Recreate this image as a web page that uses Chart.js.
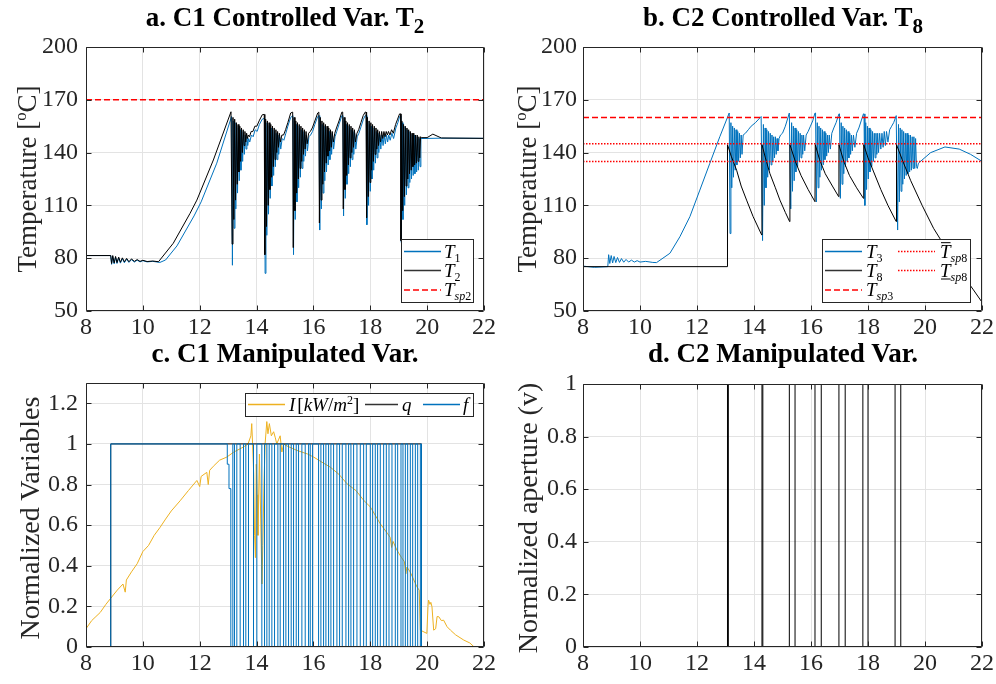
<!DOCTYPE html>
<html><head><meta charset="utf-8">
<script src="https://cdn.jsdelivr.net/npm/chart.js@4.4.1/dist/chart.umd.min.js"></script>
<style>
html,body{margin:0;padding:0;background:#fff;}
#wrap{position:relative;width:996px;height:684px;overflow:hidden;background:#fff;}
canvas{position:absolute;left:0;top:0;}
.ttl{position:absolute;font-family:'Liberation Serif','Times New Roman',serif;font-weight:bold;font-size:27px;line-height:27px;color:#000;white-space:nowrap;transform:translateX(-50%);}
.ttl sub{font-size:0.78em;vertical-align:-0.35em;line-height:0;}
.ylab{position:absolute;font-family:'Liberation Serif','Times New Roman',serif;font-size:27px;line-height:27px;color:#262626;white-space:nowrap;transform:translate(-50%,-50%) rotate(-90deg);}
.ylab.n{font-size:28px;line-height:28px;}
.ylab sup{font-size:0.62em;vertical-align:0.55em;line-height:0;}
</style></head>
<body>
<div id="wrap">
<canvas id="ca" width="996" height="684"></canvas>
<canvas id="cb" width="996" height="684"></canvas>
<canvas id="cc" width="996" height="684"></canvas>
<canvas id="cd" width="996" height="684"></canvas>
<div class="ttl" style="left:285px;top:4px">a. C1 Controlled Var. T<sub>2</sub></div>
<div class="ttl" style="left:783px;top:4px">b. C2 Controlled Var. T<sub>8</sub></div>
<div class="ttl" style="left:285px;top:340px">c. C1 Manipulated Var.</div>
<div class="ttl" style="left:783px;top:340px">d. C2 Manipulated Var.</div>
<div class="ylab" style="left:27px;top:179px">Temperature [<sup>o</sup>C]</div>
<div class="ylab" style="left:527px;top:179px">Temperature [<sup>o</sup>C]</div>
<div class="ylab n" style="left:30px;top:518px">Normalized Variables</div>
<div class="ylab n" style="left:528px;top:518px">Normalized aperture (v)</div>
</div>
<script>
// ---------------- DATA ----------------
const xTicks = [8,10,12,14,16,18,20,22];
const xTickLabels = ['8','10','12','14','16','18','20','22'];
const tempTicks = [50,80,110,140,170,200];
const tempTickLabels = ['50','80','110','140','170','200'];
const normTicks = [0,0.2,0.4,0.6,0.8,1,1.2];
const normTickLabels = ['0','0.2','0.4','0.6','0.8','1','1.2'];
const apertureTicks = [0,0.2,0.4,0.6,0.8,1];
const apertureTickLabels = ['0','0.2','0.4','0.6','0.8','1'];

const tsp2 = 170;
const tsp3 = 160;
const tsp8Upper = 145;
const tsp8Lower = 135;

// Panel a: T1 (blue)
const t1Time = [8,8.87,8.9,8.94,8.99,9.04,9.09,9.15,9.21,9.28,9.35,9.43,9.51,9.6,9.7,9.8,9.9,10,10.15,10.35,10.6,10.8,11.2,11.8,12.05,12.6,13.12,
13.15,13.18,13.21,13.24,13.27,13.3,13.33,13.36,13.39,13.42,13.45,13.48,13.51,13.54,13.57,13.6,13.63,13.66,13.69,13.72,13.76,13.82,13.88,13.95,14.02,14.1,14.2,
14.28,14.3,14.33,14.36,14.39,14.42,14.45,14.48,14.51,14.54,14.57,14.6,14.63,14.66,14.69,14.72,14.75,14.78,14.81,14.85,14.9,14.96,15.03,15.1,15.2,
15.28,15.3,15.33,15.36,15.39,15.42,15.45,15.48,15.51,15.54,15.57,15.6,15.63,15.66,15.69,15.72,15.75,15.79,15.84,15.9,15.97,16.05,16.15,
16.2,16.22,16.25,16.28,16.31,16.34,16.37,16.4,16.43,16.46,16.49,16.52,16.55,16.58,16.61,16.64,16.67,16.71,16.76,16.82,16.9,17.0,
17.04,17.06,17.09,17.12,17.15,17.18,17.21,17.24,17.27,17.3,17.33,17.36,17.39,17.42,17.45,17.49,17.54,17.6,17.68,17.76,17.82,
17.86,17.88,17.91,17.94,17.97,18.0,18.03,18.06,18.09,18.12,18.15,18.18,18.21,18.24,18.27,18.3,18.33,18.37,18.41,18.45,18.49,18.53,18.57,18.61,18.65,18.7,18.76,18.82,18.9,18.97,19.03,
19.08,19.09,19.12,19.15,19.18,19.21,19.24,19.27,19.3,19.33,19.36,19.39,19.42,19.45,19.48,19.51,19.54,19.57,19.6,19.63,19.66,19.69,19.72,19.75,19.78,19.82,20.5,22];
const t1Temp = [81.5,81.5,76.5,81,76.8,80.5,77,80.2,77.2,79.8,77.4,79.5,77.6,79.2,77.8,78.9,77.9,78.6,77.9,78.2,77.6,79,87,104,112,134,160.5,
76,158,97,157,108,155,117,154,124,153,130,152,135,151,139,150,142,149,144,148,146,150,149,153,152,156,159,
159.5,71.4,157,93,156,105,155,114,154,121,153,127,152,132,151,136,150,139,149,142,148,147,151,155,160,
161,82,158,102,156,112,155,120,154,126,153,131,152,135,151,138,150,141,149,150,152,156,160.5,
161,96,158,108,156,117,155,124,154,129,153,133,152,136,151,139,150,142,149,152,156,161,
161,104,158,114,156,122,155,128,154,132,153,136,152,139,151,142,149,151,155,159,161,
161,99,158,110,156,118,155,125,154,130,153,134,152,137,151,140,150,142,150,144,150,145,150,146,150,147,151,148,154,157,160.5,
161,89,157,102,155,110,154,116,153,120,152,123,151,125,150,127,150,128,149,129,149,130,148,132,148,148,148.2,148.1];

// Panel a: T2 (black)
const t2Time = [8,8.87,8.9,8.94,8.99,9.04,9.09,9.15,9.21,9.28,9.35,9.43,9.51,9.6,9.7,9.8,9.9,10,10.15,10.35,10.55,11.07,11.66,11.9,12.48,13.1,
13.14,13.17,13.2,13.23,13.26,13.29,13.32,13.35,13.38,13.41,13.44,13.47,13.5,13.53,13.56,13.59,13.62,13.65,13.68,13.71,13.75,13.81,13.87,13.94,14.01,14.09,14.2,
14.27,14.29,14.32,14.35,14.38,14.41,14.44,14.47,14.5,14.53,14.56,14.59,14.62,14.65,14.68,14.71,14.74,14.77,14.8,14.84,14.89,14.95,15.02,15.1,15.2,
15.27,15.29,15.32,15.35,15.38,15.41,15.44,15.47,15.5,15.53,15.56,15.59,15.62,15.65,15.68,15.71,15.74,15.78,15.83,15.89,15.96,16.05,16.15,
16.19,16.21,16.24,16.27,16.3,16.33,16.36,16.39,16.42,16.45,16.48,16.51,16.54,16.57,16.6,16.63,16.66,16.7,16.75,16.81,16.9,17.0,
17.03,17.05,17.08,17.11,17.14,17.17,17.2,17.23,17.26,17.29,17.32,17.35,17.38,17.41,17.44,17.48,17.53,17.59,17.67,17.75,17.82,
17.85,17.87,17.9,17.93,17.96,17.99,18.02,18.05,18.08,18.11,18.14,18.17,18.2,18.23,18.26,18.29,18.32,18.36,18.4,18.44,18.48,18.52,18.56,18.6,18.64,18.69,18.75,18.81,18.89,18.96,19.03,
19.07,19.08,19.11,19.14,19.17,19.2,19.23,19.26,19.29,19.32,19.35,19.38,19.41,19.44,19.47,19.5,19.53,19.56,19.59,19.62,19.65,19.68,19.71,19.74,19.77,19.81,20,20.2,20.5,22];
const t2Temp = [81.5,81.5,77,81.5,77.3,81,77.5,80.6,77.7,80.2,77.9,79.9,78,79.6,78.2,79.2,78.2,78.8,78.1,78.4,78,88.5,105.5,113,135.8,163.2,
88,160,102,159,113,157,122,156,129,155,135,154,140,153,144,152,146,151,148,150,149,152,152,155,155,158,161.5,
161.7,82,159,98,158,110,157,119,156,126,155,132,154,136,153,140,152,143,151,146,150,150,153,157,162.5,
163,86,160,107,158,117,157,125,156,131,155,135,154,139,153,142,152,145,151,152,154,158,162.5,
163,100,160,113,158,122,157,129,156,134,155,138,154,141,153,143,152,146,151,154,158,163,
163,108,160,119,158,127,157,133,156,137,155,140,154,143,153,146,151,153,157,161,163,
163,103,160,115,158,123,157,130,156,135,155,139,154,142,153,144,152,146,152,148,152,149,152,150,152,150,153,151,156,159,162,
162,90,158,107,156,115,155,121,154,125,153,128,152,130,151,132,151,133,150,134,150,135,149,137,149,148.5,148.5,150.5,148.3,148.1];

// Panel b: T3 (blue)
const t3Time = [8,8.4,8.87,8.9,8.94,8.99,9.04,9.09,9.15,9.21,9.28,9.35,9.43,9.51,9.6,9.7,9.8,9.9,10,10.2,10.45,10.58,11.05,11.4,11.75,12.1,12.45,12.8,13.13,
13.16,13.19,13.22,13.25,13.28,13.31,13.34,13.37,13.4,13.43,13.46,13.49,13.52,13.55,13.58,13.62,13.7,13.8,13.9,14.05,14.25,
14.27,14.3,14.33,14.36,14.39,14.42,14.45,14.48,14.51,14.54,14.57,14.6,14.63,14.66,14.69,14.72,14.75,14.78,14.81,14.84,14.88,14.93,15.0,15.1,15.24,
15.26,15.29,15.32,15.35,15.38,15.41,15.44,15.47,15.5,15.53,15.56,15.59,15.62,15.65,15.68,15.71,15.74,15.78,15.83,15.9,15.98,16.06,16.14,
16.16,16.19,16.22,16.25,16.28,16.31,16.34,16.37,16.4,16.43,16.46,16.49,16.52,16.55,16.58,16.61,16.64,16.68,16.73,16.8,16.88,16.98,
17.0,17.03,17.06,17.09,17.12,17.15,17.18,17.21,17.24,17.27,17.3,17.33,17.36,17.39,17.42,17.45,17.49,17.54,17.6,17.68,17.76,17.84,
17.86,17.89,17.92,17.95,17.98,18.01,18.04,18.07,18.1,18.13,18.16,18.19,18.22,18.25,18.28,18.31,18.34,18.37,18.41,18.45,18.49,18.53,18.57,18.61,18.65,18.7,18.76,18.83,18.9,18.99,
19.01,19.04,19.07,19.1,19.13,19.16,19.19,19.22,19.25,19.28,19.31,19.34,19.37,19.4,19.43,19.46,19.49,19.52,19.55,19.58,19.61,19.64,19.67,19.7,19.73,19.77,20.2,20.7,21.2,21.6,22];
const t3Temp = [75.5,74.8,75.2,82,77,81.5,77.3,81,77.5,80.4,77.6,79.8,77.7,79.3,77.8,78.9,77.8,78.6,77.8,78.2,77.6,77.5,82.8,92.2,103.6,118.7,133.9,149,162.5,
94,157,120,155,126,154,130,153,133,152,135,151,137,150,139,150,151,153,155,157,160.5,
160.5,90,156,110,154,120,153,126,152,130,151,133,150,135,149,137,149,139,148,141,148,150,151,155,162.5,
162.5,108,157,118,155,124,154,129,153,132,152,135,151,137,150,139,150,141,150,152,155,158,162.5,
162.5,112,157,120,155,126,154,130,153,133,152,136,151,138,150,140,150,142,151,154,157,162,
162,114,157,122,155,128,154,132,153,135,152,137,151,139,150,141,150,143,151,154,158,162,
162,110,157,119,155,125,154,129,153,132,152,135,151,137,151,139,151,140,151,142,151,143,152,144,152,146,153,155,157,161,
161,96,156,112,154,118,153,122,152,125,151,127,151,128,150,129,150,130,149,131,149,131,148,132,131,134,140,143.2,142,139,135];

// Panel b: T8 (black)
const t8Time = [8,13.07,13.07,13.2,13.39,13.55,13.74,13.97,14.27,14.28,14.4,14.56,14.75,14.91,15.1,15.25,15.26,15.45,15.65,15.9,16.14,16.15,16.3,16.5,16.75,16.97,16.98,17.15,17.35,17.6,17.84,17.85,18,18.2,18.45,18.7,18.99,19,19.2,19.5,19.9,20.3,20.8,21.3,21.7,22];
const t8Temp = [75.2,75.2,144.5,138,130,121,113,103.6,93.2,144.5,137,128,120,113,106,100.8,144.5,135,127,119,112.1,144.5,136,128,121,115,144.5,135,127,120,114,144.5,137,129,119,110,100.8,144.5,136,124,110,97,84,71,62,55];

// Panel c: irradiance I (yellow), q (black), f (blue)
const irrTime = [8,8.2,8.35,8.5,8.7,8.87,9.1,9.3,9.38,9.42,9.6,9.8,10,10.2,10.4,10.61,10.8,11,11.31,11.6,11.9,12,12.05,12.25,12.3,12.35,12.48,12.7,12.95,13.2,13.54,13.7,13.8,13.83,13.86,13.9,13.93,13.96,13.99,14.02,14.05,14.1,14.15,14.19,14.22,14.26,14.3,14.36,14.4,14.45,14.52,14.6,14.66,14.71,14.77,14.83,14.89,14.95,15.07,15.42,15.8,16.01,16.3,16.59,16.9,17.18,17.5,17.77,18,18.35,18.6,18.7,18.75,18.8,18.94,19.1,19.2,19.25,19.29,19.4,19.5,19.64,19.72,19.76,19.99,20.03,20.05,20.1,20.13,20.17,20.23,20.3,20.35,20.41,20.5,20.58,20.7,20.82,21,21.29,21.5,21.64,21.76];
const irrValue = [0.09,0.13,0.15,0.17,0.21,0.24,0.28,0.31,0.27,0.33,0.37,0.41,0.47,0.5,0.55,0.59,0.63,0.67,0.72,0.77,0.82,0.79,0.84,0.86,0.8,0.87,0.89,0.92,0.935,0.96,0.985,1,1.04,1.1,1,0.85,0.55,0.44,0.9,0.75,0.55,0.95,0.6,0.31,0.5,0.8,1,1.11,1.05,1.1,1.04,1.06,1.03,1,1.02,1.04,0.96,1,0.99,0.968,0.95,0.935,0.91,0.886,0.85,0.804,0.77,0.722,0.69,0.607,0.56,0.54,0.49,0.52,0.476,0.44,0.42,0.36,0.394,0.37,0.34,0.296,0.28,0.083,0.067,0.2,0.231,0.21,0.22,0.198,0.083,0.09,0.15,0.149,0.13,0.132,0.1,0.083,0.06,0.034,0.02,0.002,0];

const qTime = [8,8.87,19.8,22];
const qValue = [0,1,0,0];

const fTime = [8,8.87,12.97,13.03,
13.094,13.165,13.223,13.305,13.423,13.54,13.622,13.716,13.892,14.01,
14.186,14.28,14.362,14.444,14.538,14.632,14.749,14.831,14.949,15.031,
15.125,15.218,15.301,15.395,15.477,15.594,15.711,15.829,15.888,15.97,
16.181,16.263,16.357,16.439,16.533,16.615,16.709,16.826,16.92,17.014,
17.143,17.237,17.319,17.413,17.531,17.648,17.766,17.86,
18.0,18.083,18.176,18.258,18.352,18.47,18.564,18.658,18.763,18.88,18.963,
19.08,19.15,19.233,19.315,19.409,19.491,19.585,19.667,19.761,19.8,22];
const fValue = [0,1,0.9,0.78,
0,1,0,1,0,1,0,1,0,1,
0,1,0,1,0,1,0,1,0,1,
0,1,0,1,0,1,0,1,0,1,
0,1,0,1,0,1,0,1,0,1,
0,1,0,1,0,1,0,1,
0,1,0,1,0,1,0,1,0,1,0,
1,0,1,0,1,0,1,0,1,0,0];

// Panel d: valve aperture v (black)
const vTime = [8,13.07,13.1,14.28,14.31,15.24,15.44,16.14,16.36,16.98,17.2,17.82,18,18.95,19.15,22];
const vValue = [0,1,0,1,0,1,0,1,0,1,0,1,0,1,0,0];

// ---------------- STYLE / HELPERS ----------------
const FONT = "'Liberation Serif','Times New Roman',serif";
const GRID = '#e3e3e3';
const AX = '#262626';
const BLUE = '#0072BD', BLACK = '#000000', RED = '#FF0000', YELLOW = '#EDB120';
const YW = 60, XH = 30;

function pts(xs, ys){ return xs.map((x,i)=>({x:x, y:ys[i]})); }
function hline(v){ return [{x:xTicks[0], y:v},{x:xTicks[xTicks.length-1], y:v}]; }
function lineDs(label, data, color, extra){
  return Object.assign({label:label, data:data, borderColor:color, backgroundColor:color, borderWidth:1,
    pointRadius:0, pointHoverRadius:0, tension:0, fill:false}, extra||{});
}

function drawMath(ctx, x, y, segs, size){
  let cx = x;
  for (const s of segs){
    const sz = s.sz || size;
    ctx.font = (s.up ? '' : 'italic ') + sz + 'px ' + FONT;
    const yy = y + (s.dy || 0);
    ctx.fillText(s.t, cx, yy);
    const w = ctx.measureText(s.t).width;
    if (s.bar){
      ctx.save(); ctx.lineWidth = 1; ctx.strokeStyle = '#000'; ctx.beginPath();
      const by = s.bar === 'over' ? yy - sz*0.78 : yy + 2.5;
      ctx.moveTo(cx+1, by); ctx.lineTo(cx+w, by); ctx.stroke(); ctx.restore();
    }
    cx += w + (s.gap || 0);
  }
}

function makeAxesPlugin(lg){
  return {
    id:'matlabAxes',
    afterDatasetsDraw(chart){
      const ctx = chart.ctx, a = chart.chartArea, sc = chart.scales;
      ctx.save();
      ctx.strokeStyle = AX; ctx.lineWidth = 1; ctx.setLineDash([]);
      const L = Math.round(a.left)+0.5, R = Math.round(a.right)-0.5, T = Math.round(a.top)+0.5, B = Math.round(a.bottom)-0.5;
      ctx.beginPath();
      ctx.rect(L, T, R-L, B-T);
      const tl = 5;
      sc.x.ticks.forEach(t=>{ const p = Math.round(sc.x.getPixelForValue(t.value))+0.5; ctx.moveTo(p,B); ctx.lineTo(p,B-tl); ctx.moveTo(p,T); ctx.lineTo(p,T+tl); });
      sc.y.ticks.forEach(t=>{ const p = Math.round(sc.y.getPixelForValue(t.value))+0.5; ctx.moveTo(L,p); ctx.lineTo(L+tl,p); ctx.moveTo(R,p); ctx.lineTo(R-tl,p); });
      ctx.stroke();
      if (lg){
        ctx.fillStyle = '#fff';
        ctx.fillRect(lg.box[0], lg.box[1], lg.box[2], lg.box[3]);
        ctx.strokeStyle = AX;
        ctx.strokeRect(lg.box[0]+0.5, lg.box[1]+0.5, lg.box[2], lg.box[3]);
        lg.items.forEach(it=>{
          ctx.save();
          ctx.strokeStyle = it.color; ctx.lineWidth = it.w || 1.3; ctx.setLineDash(it.dash || []);
          ctx.beginPath(); ctx.moveTo(it.x0, it.y); ctx.lineTo(it.x1, it.y); ctx.stroke();
          ctx.restore();
          ctx.fillStyle = '#000'; ctx.textBaseline = 'alphabetic'; ctx.textAlign = 'left';
          drawMath(ctx, it.tx, it.y + 6, it.label, lg.size);
        });
      }
      ctx.restore();
    }
  };
}

function makeChart(id, cfg){
  const ctx = document.getElementById(id).getContext('2d');
  return new Chart(ctx, {
    type:'line',
    data:{datasets:cfg.datasets},
    options:{
      responsive:false, maintainAspectRatio:false, animation:false, devicePixelRatio:1, events:[],
      layout:{padding:{left:cfg.area[0]-YW, top:cfg.area[1], right:996-cfg.area[2], bottom:684-cfg.area[3]-XH}},
      plugins:{legend:{display:false}, tooltip:{enabled:false}, title:{display:false}},
      scales:{
        x:{type:'linear', min:xTicks[0], max:xTicks[xTicks.length-1],
          afterBuildTicks:s=>{ s.ticks = xTicks.map(v=>({value:v})); },
          afterFit:s=>{ s.height = XH; },
          ticks:{font:{family:FONT,size:24}, color:AX, padding:2, maxRotation:0, autoSkip:false,
            callback:(v,i)=>xTickLabels[i]},
          grid:{color:GRID, drawTicks:false, lineWidth:1},
          border:{display:false}},
        y:{type:'linear', min:cfg.yMin, max:cfg.yMax,
          afterBuildTicks:s=>{ s.ticks = cfg.yTicks.map(v=>({value:v})); },
          afterFit:s=>{ s.width = YW; },
          ticks:{font:{family:FONT,size:24}, color:AX, padding:cfg.yPad, autoSkip:false,
            callback:(v,i)=>cfg.yLabels[i]},
          grid:{color:GRID, drawTicks:false, lineWidth:1},
          border:{display:false}}
      }
    },
    plugins:[makeAxesPlugin(cfg.legend)]
  });
}

const sub = (t)=>({t:t, up:true, sz:12, dy:4});
const subI = (t)=>({t:t, sz:12, dy:4});

// ---------------- PANEL A ----------------
makeChart('ca', {
  area:[86,47,484,311], yMin:50, yMax:200, yTicks:tempTicks, yLabels:tempTickLabels, yPad:8,
  datasets:[
    lineDs('T1', pts(t1Time,t1Temp), BLUE, {order:3}),
    lineDs('T2', pts(t2Time,t2Temp), BLACK, {order:2}),
    lineDs('Tsp2', hline(tsp2), RED, {order:1, borderDash:[6,3], borderWidth:1.5})
  ],
  legend:{box:[401,239,72,63], size:19, items:[
    {color:BLUE, x0:404, x1:441, y:251.5, tx:444, label:[{t:'T'}, sub('1')]},
    {color:'#333', x0:404, x1:441, y:270.5, tx:444, label:[{t:'T'}, sub('2')]},
    {color:RED, dash:[6,3], w:1.5, x0:404, x1:441, y:290, tx:444, label:[{t:'T'}, subI('sp'), sub('2')]}
  ]}
});

// ---------------- PANEL B ----------------
makeChart('cb', {
  area:[583,47,982,311], yMin:50, yMax:200, yTicks:tempTicks, yLabels:tempTickLabels, yPad:6,
  datasets:[
    lineDs('T3', pts(t3Time,t3Temp), BLUE, {order:5}),
    lineDs('T8', pts(t8Time,t8Temp), BLACK, {order:4}),
    lineDs('Tsp3', hline(tsp3), RED, {order:3, borderDash:[6,3], borderWidth:1.5}),
    lineDs('Tsp8 upper', hline(tsp8Upper), RED, {order:2, borderDash:[1.5,1.5], borderWidth:1.5}),
    lineDs('Tsp8 lower', hline(tsp8Lower), RED, {order:1, borderDash:[1.5,1.5], borderWidth:1.5})
  ],
  legend:{box:[822,239,148,63], size:19, items:[
    {color:BLUE, x0:825, x1:862, y:251.5, tx:866, label:[{t:'T'}, sub('3')]},
    {color:'#333', x0:825, x1:862, y:270.5, tx:866, label:[{t:'T'}, sub('8')]},
    {color:RED, dash:[6,3], w:1.5, x0:825, x1:862, y:290, tx:866, label:[{t:'T'}, subI('sp'), sub('3')]},
    {color:RED, dash:[1.5,1.5], w:1.5, x0:898, x1:935, y:251.5, tx:940, label:[{t:'T', bar:'over'}, subI('sp'), sub('8')]},
    {color:RED, dash:[1.5,1.5], w:1.5, x0:898, x1:935, y:270.5, tx:940, label:[{t:'T', bar:'under'}, subI('sp'), sub('8')]}
  ]}
});

// ---------------- PANEL C ----------------
makeChart('cc', {
  area:[86,383,484,647], yMin:0, yMax:1.3, yTicks:normTicks, yLabels:normTickLabels, yPad:8,
  datasets:[
    lineDs('I [kW/m2]', pts(irrTime,irrValue), YELLOW, {order:3}),
    lineDs('q', pts(qTime,qValue), BLACK, {order:2, stepped:'before'}),
    lineDs('f', pts(fTime,fValue), BLUE, {order:1, stepped:'before'})
  ],
  legend:{box:[245,393,228,23], size:19, items:[
    {color:YELLOW, x0:248, x1:285, y:404.5, tx:289, label:[{t:'I', gap:2}, {t:'[', up:true}, {t:'kW'}, {t:'/', up:true}, {t:'m'}, {t:'2', up:true, sz:12, dy:-7}, {t:']', up:true}]},
    {color:'#333', x0:365, x1:398, y:404.5, tx:402, label:[{t:'q'}]},
    {color:BLUE, x0:423, x1:460, y:404.5, tx:463, label:[{t:'f'}]}
  ]}
});

// ---------------- PANEL D ----------------
makeChart('cd', {
  area:[583,384,982,647], yMin:0, yMax:1, yTicks:apertureTicks, yLabels:apertureTickLabels, yPad:6,
  datasets:[
    lineDs('v', pts(vTime,vValue), BLACK, {stepped:'before'})
  ],
  legend:null
});
</script>
</body></html>
